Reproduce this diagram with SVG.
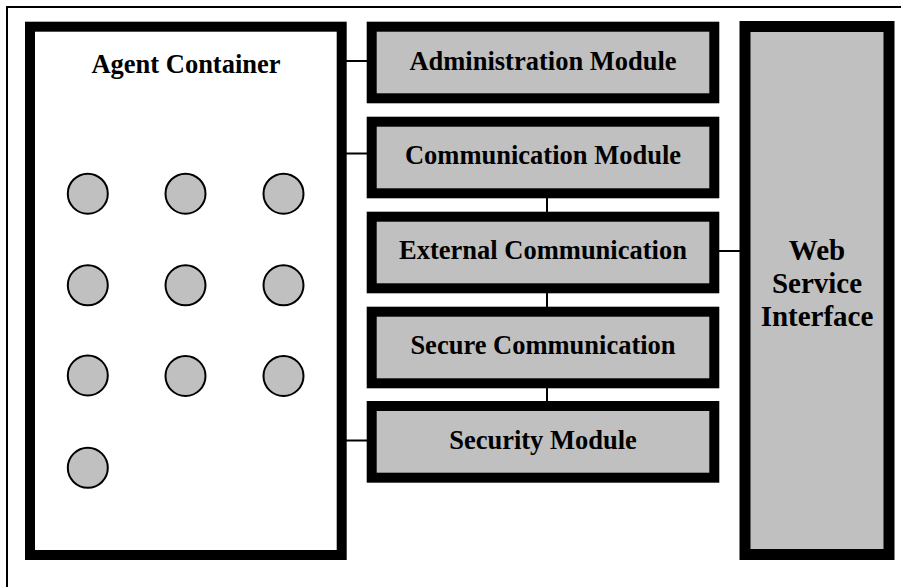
<svg xmlns="http://www.w3.org/2000/svg" width="901" height="587" viewBox="0 0 901 587">
  <style>
    .frame { fill: #ffffff; stroke: #000; stroke-width: 2; }
    .container { fill: #ffffff; stroke: #000; stroke-width: 10; }
    .module { fill: #c0c0c0; stroke: #000; stroke-width: 10; }
    .agent { fill: #c0c0c0; stroke: #000; stroke-width: 2; }
    .link { stroke: #000; stroke-width: 2; fill: none; }
    .label { font-family: "Liberation Serif", "Times New Roman", serif; font-weight: bold; font-size: 26.5px; fill: #000; text-anchor: middle; }
    .wide { font-size: 29px; }
  </style>

  <!-- outer frame -->
  <rect class="frame" x="7" y="7" width="910" height="600"/>

  <!-- connectors -->
  <g id="connectors">
    <line class="link" x1="346" y1="61" x2="367" y2="61"/>
    <line class="link" x1="346" y1="153.5" x2="367" y2="153.5"/>
    <line class="link" x1="346" y1="440.5" x2="367" y2="440.5"/>
    <line class="link" x1="547" y1="198" x2="547" y2="212"/>
    <line class="link" x1="547" y1="293" x2="547" y2="307"/>
    <line class="link" x1="547" y1="388" x2="547" y2="401"/>
    <line class="link" x1="719" y1="251" x2="740" y2="251"/>
  </g>

  <!-- agent container with agents -->
  <g id="agent-container">
    <rect class="container" x="30" y="26.7" width="311.7" height="528.3"/>
    <text class="label" x="186" y="73">Agent Container</text>
    <circle class="agent" cx="87.8" cy="193.7" r="20"/>
    <circle class="agent" cx="185.5" cy="193.7" r="20"/>
    <circle class="agent" cx="283.5" cy="193.7" r="20"/>
    <circle class="agent" cx="87.8" cy="285.3" r="20"/>
    <circle class="agent" cx="185.5" cy="285.3" r="20"/>
    <circle class="agent" cx="283.5" cy="285.3" r="20"/>
    <circle class="agent" cx="87.8" cy="375.5" r="20"/>
    <circle class="agent" cx="185.5" cy="376" r="20"/>
    <circle class="agent" cx="283.5" cy="376" r="20"/>
    <circle class="agent" cx="87.8" cy="467.8" r="20"/>
  </g>

  <g id="administration-module">
    <rect class="module" x="371.7" y="26.7" width="342.6" height="71.6"/>
    <text class="label" x="543" y="70">Administration Module</text>
  </g>

  <g id="communication-module">
    <rect class="module" x="371.7" y="121.7" width="342.6" height="71.6"/>
    <text class="label" x="543" y="163.5">Communication Module</text>
  </g>

  <g id="external-communication">
    <rect class="module" x="371.7" y="216.7" width="342.6" height="71.6"/>
    <text class="label" x="543" y="259.3">External Communication</text>
  </g>

  <g id="secure-communication">
    <rect class="module" x="371.7" y="311.7" width="342.6" height="71.6"/>
    <text class="label" x="543" y="353.5">Secure Communication</text>
  </g>

  <g id="security-module">
    <rect class="module" x="371.7" y="406" width="342.6" height="71.7"/>
    <text class="label" x="543" y="448.5">Security Module</text>
  </g>

  <g id="web-service-interface">
    <rect class="module" x="745" y="26.5" width="144" height="528" style="stroke-width:11"/>
    <text class="label wide" x="817" y="260">Web</text>
    <text class="label wide" x="817" y="293">Service</text>
    <text class="label wide" x="817" y="326">Interface</text>
  </g>
</svg>
